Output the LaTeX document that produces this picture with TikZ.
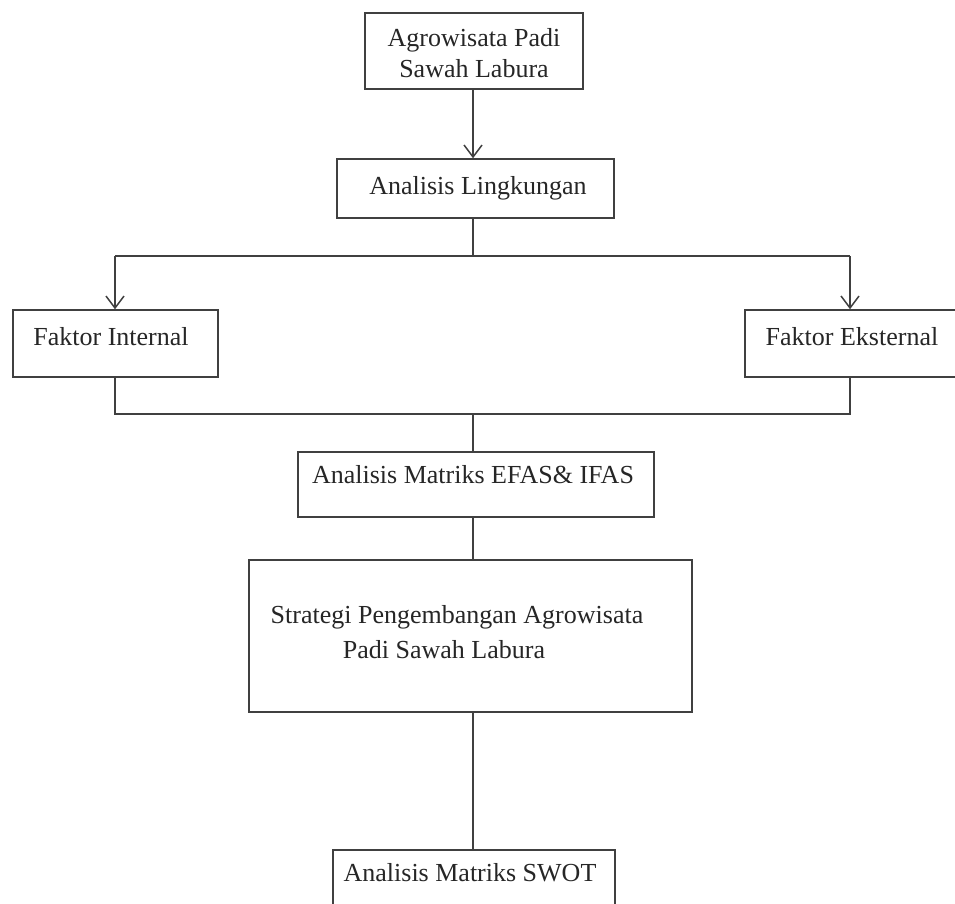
\documentclass[tikz,border=0pt]{standalone}
\usepackage{fontspec}
\setmainfont{Liberation Serif}
\usetikzlibrary{arrows.meta}
\begin{document}
\begin{tikzpicture}[x=1pt,y=-1pt,
  box/.style={draw=black!75, line width=1.5pt, rectangle, inner sep=0pt},
  txt/.style={inner sep=0pt, align=center, font=\fontsize{26}{31}\selectfont, text=black!85},
  conn/.style={draw=black!75, line width=1.5pt},
  arr/.style={conn, -{Straight Barb[length=12pt,width=18pt,line width=1.5pt]}}]
\useasboundingbox (0,0) rectangle (955,903);
\clip (0,0) rectangle (955,903);
% boxes
\node[box, minimum width=218pt, minimum height=76pt] (b1) at (474,51) {};
\node[box, minimum width=277pt, minimum height=59pt] (b2) at (475.5,188.5) {};
\node[box, minimum width=205pt, minimum height=67pt] (b3) at (115.5,343.5) {};
\node[box, minimum width=230pt, minimum height=67pt] (b4) at (860,343.5) {};
\node[box, minimum width=356pt, minimum height=65pt] (b5) at (476,484.5) {};
\node[box, minimum width=443pt, minimum height=152pt] (b6) at (470.5,636) {};
\node[box, minimum width=282pt, minimum height=70pt] (b7) at (474,885) {};
% texts
\node[txt] (t1) at (474,53) {Agrowisata Padi\\Sawah Labura};
\node[txt] (t2) at (478,188) {Analisis Lingkungan};
\node[txt] (t3) at (111,337) {Faktor Internal};
\node[txt] (t4) at (852,337) {Faktor Eksternal};
\node[txt] (t5) at (473,475) {Analisis Matriks EFAS\& IFAS};
\node[txt] (t6a) at (457,617) {Strategi Pengembangan Agrowisata};
\node[txt] (t6b) at (444,650) {Padi Sawah Labura};
\node[txt] (t7) at (470,873) {Analisis Matriks SWOT};
% junctions
\coordinate (j1) at (473,256);
\coordinate (j2) at (473,414);
\coordinate (c3) at (115,256);
\coordinate (c4) at (850,256);
\coordinate (d3) at (115,414);
\coordinate (d4) at (850,414);
% connectors
\draw[arr] (b1.south -| j1) -- (j1 |- b2.north);
\draw[conn] (b2.south -| j1) -- (j1);
\draw[conn] (c3) -- (c4);
\draw[arr] (c3) -- (c3 |- b3.north);
\draw[arr] (c4) -- (c4 |- b4.north);
\draw[conn] (d3 |- b3.south) -- (d3) -- (d4) -- (d4 |- b4.south);
\draw[conn] (j2) -- (j2 |- b5.north);
\draw[conn] (j2 |- b5.south) -- (j2 |- b6.north);
\draw[conn] (j2 |- b6.south) -- (j2 |- b7.north);
\end{tikzpicture}
\end{document}
